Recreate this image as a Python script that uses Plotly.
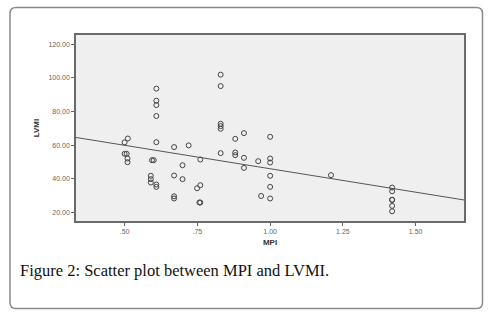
import plotly.graph_objects as go

# Data
mpi = [0.50, 0.511, 0.50, 0.507, 0.51, 0.51,
       0.609, 0.609, 0.609, 0.609, 0.609,
       0.594, 0.60, 0.59, 0.59, 0.59, 0.609, 0.609,
       0.67, 0.67, 0.67, 0.67, 0.699, 0.699, 0.72,
       0.76, 0.76, 0.749, 0.76, 0.757,
       0.83, 0.83, 0.83, 0.83, 0.83, 0.83,
       0.88, 0.88, 0.88, 0.91, 0.91, 0.91,
       0.959, 0.969, 1.0, 1.0, 1.0, 1.0, 1.0, 1.0,
       1.209, 1.419, 1.419, 1.419, 1.419, 1.419, 1.419]
lvmi = [61.6, 63.9, 54.8, 54.8, 52.0, 49.8,
        93.6, 86.4, 83.8, 77.3, 61.7,
        51.0, 51.0, 41.7, 39.7, 37.7, 36.5, 35.1,
        58.8, 41.9, 29.5, 28.2, 48.0, 39.7, 59.8,
        51.4, 36.1, 34.3, 25.8, 25.8,
        101.9, 95.1, 72.7, 71.3, 69.7, 55.2,
        63.7, 55.6, 54.0, 67.1, 52.4, 46.4,
        50.4, 29.7, 64.9, 52.0, 49.6, 41.7, 35.1, 28.2,
        42.1, 34.7, 32.5, 27.4, 27.4, 23.8, 20.6]

fit_x = [0.333, 1.666]
fit_intercept = 73.8
fit_slope = -27.9
fit_y = [fit_intercept + fit_slope * v for v in fit_x]

x_ticks = [0.50, 0.75, 1.00, 1.25, 1.50]
x_tick_labels = [".50", ".75", "1.00", "1.25", "1.50"]
y_ticks = [20, 40, 60, 80, 100, 120]
y_tick_labels = ["20.00", "40.00", "60.00", "80.00", "100.00", "120.00"]

W, H = 492, 313
ml, mr, mt, mb = 76, 28, 35, 92
pw, ph = W - ml - mr, H - mt - mb

def px(x):
    return (x - ml) / pw

def py(y):
    return (H - mb - y) / ph

fig = go.Figure()
fig.add_trace(go.Scatter(x=fit_x, y=fit_y, mode="lines",
                         line=dict(color="#555555", width=1), hoverinfo="skip"))
fig.add_trace(go.Scatter(x=mpi, y=lvmi, mode="markers",
                         marker=dict(symbol="circle-open", size=5,
                                     color="#444444", line=dict(width=1))))

# rounded frame around whole figure
x0, x1, y0, y1, r = 10, 482.5, 7.5, 308.5, 6
path = (f"M {px(x0+r)},{py(y0)} L {px(x1-r)},{py(y0)} "
        f"Q {px(x1)},{py(y0)} {px(x1)},{py(y0+r)} "
        f"L {px(x1)},{py(y1-r)} Q {px(x1)},{py(y1)} {px(x1-r)},{py(y1)} "
        f"L {px(x0+r)},{py(y1)} Q {px(x0)},{py(y1)} {px(x0)},{py(y1-r)} "
        f"L {px(x0)},{py(y0+r)} Q {px(x0)},{py(y0)} {px(x0+r)},{py(y0)} Z")
fig.add_shape(type="path", xref="paper", yref="paper", path=path,
              line=dict(color="#8a8a8a", width=1.5), layer="below")

fig.add_annotation(text="Figure 2: Scatter plot between MPI and LVMI.",
                   xref="paper", yref="paper", x=px(18), y=py(270),
                   xanchor="left", yanchor="middle", showarrow=False,
                   font=dict(family="Liberation Serif", size=16.5, color="#111111"))

fig.update_layout(
    width=W, height=H, showlegend=False,
    margin=dict(l=ml, r=mr, t=mt, b=mb),
    paper_bgcolor="white", plot_bgcolor="#efefef",
    font=dict(family="Liberation Sans", color="#555555"),
    xaxis=dict(range=[0.333, 1.666], tickvals=x_ticks, ticktext=x_tick_labels,
               showgrid=False, zeroline=False, showline=True, mirror=True,
               linecolor="#6a6a6a", linewidth=1.5, ticks="outside", ticklen=3,
               tickcolor="#666666", tickfont=dict(size=7, color="#666666"),
               title=dict(text="<b>MPI</b>", font=dict(size=8, color="#333333"),
                          standoff=5)),
    yaxis=dict(range=[14.8, 125.5], tickvals=y_ticks, ticktext=y_tick_labels,
               showgrid=False, zeroline=False, showline=True, mirror=True,
               linecolor="#6a6a6a", linewidth=1.5, ticks="outside", ticklen=3,
               tickcolor="#666666", tickfont=dict(size=7, color="#666666"),
               title=dict(text="<b>LVMI</b>", font=dict(size=8, color="#333333"),
                          standoff=8)),
)

fig.write_html("out.html", config={"displayModeBar": False},
               post_script="document.body.style.margin='0';document.body.style.padding='0';")
